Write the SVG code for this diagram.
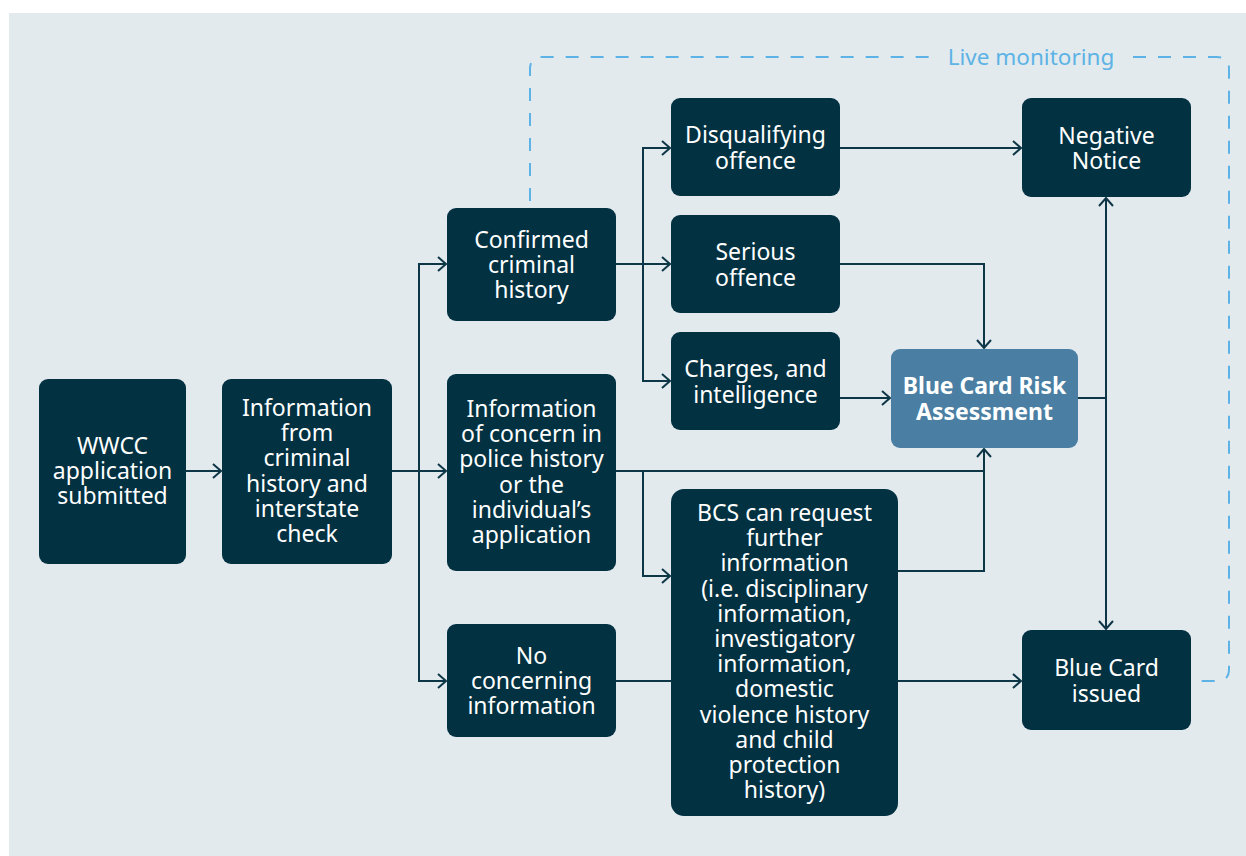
<svg xmlns="http://www.w3.org/2000/svg" width="1246" height="856" viewBox="0 0 1246 856">
<defs>
<style>
.bg{fill:#e2eaee}
.node{fill:#023141}
.risk{fill:#4a7fa3}
.t{font-family:"Noto Sans","Open Sans","DejaVu Sans",sans-serif;font-size:23px;fill:#ffffff;text-anchor:middle}
.b{font-weight:bold}
.c{fill:none;stroke:#0d3646;stroke-width:2}
.dash{fill:none;stroke:#5db3e5;stroke-width:2;stroke-dasharray:13 12}
.lm{font-family:"Noto Sans","Open Sans","DejaVu Sans",sans-serif;font-size:22.5px;fill:#5db3e5;text-anchor:middle}
</style>
<marker id="ah" markerUnits="userSpaceOnUse" markerWidth="20" markerHeight="20" viewBox="-10 -10 20 20" refX="0" refY="0" orient="auto-start-reverse">
<path d="M-8,-7 L0,0 L-8,7" fill="none" stroke="#0d3646" stroke-width="2"/>
</marker>
</defs>
<rect class="bg" x="9" y="13" width="1237" height="843"/>

<g id="monitoring">
<path class="dash" d="M530,201 V69 Q530,57 542,57 H930 M1133,57 H1217 Q1229,57 1229,69 V669 Q1229,681 1217,681 H1193"/>
<text class="lm" x="1031" y="65">Live monitoring</text>
</g>

<g id="connectors">
<path class="c" d="M186,471 H221" marker-end="url(#ah)"/>
<path class="c" d="M392,471 H446" marker-end="url(#ah)"/>
<path class="c" d="M446,264 H419 V681 H446" marker-start="url(#ah)" marker-end="url(#ah)"/>
<path class="c" d="M616,264 H670" marker-end="url(#ah)"/>
<path class="c" d="M670,148 H643 V381 H670" marker-start="url(#ah)" marker-end="url(#ah)"/>
<path class="c" d="M840,148 H1021" marker-end="url(#ah)"/>
<path class="c" d="M840,264 H984 V348" marker-end="url(#ah)"/>
<path class="c" d="M840,398 H890" marker-end="url(#ah)"/>
<path class="c" d="M616,471 H984 V449" marker-end="url(#ah)"/>
<path class="c" d="M643,471 V576 H670" marker-end="url(#ah)"/>
<path class="c" d="M898,571 H984 V471"/>
<path class="c" d="M616,681 H1021" marker-end="url(#ah)"/>
<path class="c" d="M1078,398 H1106"/>
<path class="c" d="M1106,198 V629" marker-start="url(#ah)" marker-end="url(#ah)"/>
</g>

<g id="wwcc">
<rect class="node" x="39" y="379" width="147" height="185" rx="9"/>
<text class="t"><tspan x="112.5" y="453.8">WWCC</tspan><tspan x="112.5" y="479">application</tspan><tspan x="112.5" y="504.2">submitted</tspan></text>
</g>

<g id="info-criminal">
<rect class="node" x="222" y="379" width="170" height="185" rx="9"/>
<text class="t"><tspan x="307" y="416">Information</tspan><tspan x="307" y="441.2">from</tspan><tspan x="307" y="466.4">criminal</tspan><tspan x="307" y="491.6">history and</tspan><tspan x="307" y="516.8">interstate</tspan><tspan x="307" y="542">check</tspan></text>
</g>

<g id="confirmed">
<rect class="node" x="447" y="208" width="169" height="113" rx="9"/>
<text class="t"><tspan x="531.5" y="247.5">Confirmed</tspan><tspan x="531.5" y="272.7">criminal</tspan><tspan x="531.5" y="297.9">history</tspan></text>
</g>

<g id="concern">
<rect class="node" x="447" y="374" width="169" height="197" rx="9"/>
<text class="t"><tspan x="531.5" y="417">Information</tspan><tspan x="531.5" y="442.2">of concern in</tspan><tspan x="531.5" y="467.4">police history</tspan><tspan x="531.5" y="492.6">or the</tspan><tspan x="531.5" y="517.8">individual’s</tspan><tspan x="531.5" y="543">application</tspan></text>
</g>

<g id="no-concern">
<rect class="node" x="447" y="624" width="169" height="113" rx="9"/>
<text class="t"><tspan x="531.5" y="663.5">No</tspan><tspan x="531.5" y="688.7">concerning</tspan><tspan x="531.5" y="713.9">information</tspan></text>
</g>

<g id="disqualifying">
<rect class="node" x="671" y="98" width="169" height="98" rx="9"/>
<text class="t"><tspan x="755.5" y="143.4">Disqualifying</tspan><tspan x="755.5" y="168.6">offence</tspan></text>
</g>

<g id="serious">
<rect class="node" x="671" y="215" width="169" height="98" rx="9"/>
<text class="t"><tspan x="755.5" y="260.4">Serious</tspan><tspan x="755.5" y="285.6">offence</tspan></text>
</g>

<g id="charges">
<rect class="node" x="671" y="332" width="169" height="98" rx="9"/>
<text class="t"><tspan x="755.5" y="377.4">Charges, and</tspan><tspan x="755.5" y="402.6">intelligence</tspan></text>
</g>

<g id="risk">
<rect class="risk" x="891" y="349" width="187" height="99" rx="9"/>
<text class="t b"><tspan x="984.5" y="394.4">Blue Card Risk</tspan><tspan x="984.5" y="419.6">Assessment</tspan></text>
</g>

<g id="bcs">
<rect class="node" x="671" y="489" width="227" height="327" rx="13"/>
<text class="t"><tspan x="784.5" y="520.9">BCS can request</tspan><tspan x="784.5" y="546.1">further</tspan><tspan x="784.5" y="571.3">information</tspan><tspan x="784.5" y="596.5">(i.e. disciplinary</tspan><tspan x="784.5" y="621.7">information,</tspan><tspan x="784.5" y="646.9">investigatory</tspan><tspan x="784.5" y="672.1">information,</tspan><tspan x="784.5" y="697.3">domestic</tspan><tspan x="784.5" y="722.5">violence history</tspan><tspan x="784.5" y="747.7">and child</tspan><tspan x="784.5" y="772.9">protection</tspan><tspan x="784.5" y="798.1">history)</tspan></text>
</g>

<g id="negative">
<rect class="node" x="1022" y="98" width="169" height="99" rx="9"/>
<text class="t"><tspan x="1106.5" y="143.9">Negative</tspan><tspan x="1106.5" y="169.1">Notice</tspan></text>
</g>

<g id="issued">
<rect class="node" x="1022" y="630" width="169" height="100" rx="9"/>
<text class="t"><tspan x="1106.5" y="676.4">Blue Card</tspan><tspan x="1106.5" y="701.6">issued</tspan></text>
</g>
</svg>
